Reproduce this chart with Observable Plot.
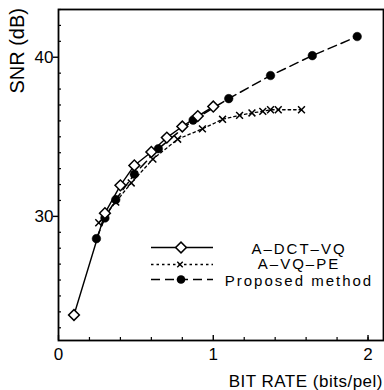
<!DOCTYPE html>
<html><head><meta charset="utf-8">
<script src="https://cdn.jsdelivr.net/npm/d3@7"></script>
<script src="https://cdn.jsdelivr.net/npm/@observablehq/plot@0.6"></script>
<style>
body{margin:0;background:#fff;}
#wrap{width:384px;height:390px;}
</style></head><body><div id="wrap"></div>
<script>
// ---- data ----
const dctX = [0.10, 0.30, 0.40, 0.49, 0.60, 0.70, 0.80, 0.90, 1.00];
const dctY = [23.8, 30.2, 31.95, 33.2, 34.05, 34.95, 35.65, 36.3, 36.9];
const vqX = [0.26, 0.37, 0.47, 0.61, 0.77, 0.93, 1.06, 1.17, 1.25, 1.32, 1.37, 1.42, 1.57];
const vqY = [29.6, 30.9, 32.1, 33.6, 34.85, 35.5, 36.1, 36.35, 36.5, 36.6, 36.7, 36.7, 36.7];
const propX = [0.245, 0.30, 0.37, 0.49, 0.645, 0.87, 1.10, 1.37, 1.64, 1.93];
const propY = [28.6, 29.9, 31.05, 32.65, 34.25, 36.05, 37.4, 38.85, 40.1, 41.3];
const seriesNames = ["A\u2013DCT\u2013VQ", "A\u2013VQ\u2013PE", "Proposed method"];
const xMajor = [0, 1, 2];
const xMinor = [0.2, 0.4, 0.6, 0.8, 1.2, 1.4, 1.6, 1.8, 2.0];
const yMajor = [30, 40];
const yMinor = [23, 24, 25, 26, 27, 28, 29, 31, 32, 33, 34, 35, 36, 37, 38, 39, 41, 42, 43];
const xLabel = "BIT RATE (bits/pel)";
const yLabel = "SNR (dB)";

const toRows = (xs, ys) => xs.map((x, i) => ({x, y: ys[i]}));
const dct = toRows(dctX, dctY), vq = toRows(vqX, vqY), prop = toRows(propX, propY);

const FONT = "'Liberation Sans', Arial, Helvetica, sans-serif";

const plot = Plot.plot({
  width: 384, height: 390,
  marginLeft: 58, marginRight: 1, marginTop: 9, marginBottom: 50,
  x: {domain: [0, 2.1], label: null},
  y: {domain: [22.2, 43.0], label: null},
  style: {fontFamily: FONT, fontSize: "17px", color: "#000", background: "#fff"},
  marks: [
    Plot.frame({stroke: "#000", strokeWidth: 1.8}),
    Plot.axisX({ticks: xMinor, tickSize: -3, tickFormat: () => "", label: null, strokeWidth: 1.2}),
    Plot.axisX({ticks: xMajor, tickSize: -5, tickPadding: 12, tickFormat: d => d, label: null, strokeWidth: 1.4, fontSize: 17}),
    Plot.axisY({ticks: yMinor, tickSize: -3, tickFormat: () => "", label: null, strokeWidth: 1.2}),
    Plot.axisY({ticks: yMajor, tickSize: 5, tickPadding: 0, tickFormat: d => d, label: null, strokeWidth: 1.4, fontSize: 17}),
    Plot.line(prop, {x: "x", y: "y", stroke: "#000", strokeWidth: 1.5, strokeDasharray: "9,5"}),
    Plot.line(vq, {x: "x", y: "y", stroke: "#000", strokeWidth: 1.3, strokeDasharray: "2.5,3"}),
    Plot.line(dct, {x: "x", y: "y", stroke: "#000", strokeWidth: 1.4}),
    Plot.dot(vq, {x: "x", y: "y", symbol: "times", r: 3.2, stroke: "#000", strokeWidth: 1.5}),
    Plot.dot(prop, {x: "x", y: "y", symbol: "circle", r: 4.3, fill: "#000", stroke: "#000", strokeWidth: 0.5}),
    Plot.dot(dct, {x: "x", y: "y", symbol: "square", r: 4.3, rotate: 45, fill: "#fff", stroke: "#000", strokeWidth: 1.5})
  ]
});
document.getElementById("wrap").appendChild(plot);

// ---- axis titles and legend ----
const svg = d3.select(plot);
svg.append("text")
  .attr("transform", "translate(24,8) rotate(-90)")
  .attr("text-anchor", "end")
  .attr("font-family", FONT).attr("font-size", 20)
  .attr("fill", "#000")
  .text(yLabel);
svg.append("text")
  .attr("x", 383).attr("y", 386.5)
  .attr("text-anchor", "end")
  .attr("font-family", FONT).attr("font-size", 17)
  .attr("letter-spacing", 0.5)
  .attr("fill", "#000")
  .text(xLabel);

const legRows = [247.5, 264.5, 279.5];
const legBase = [253.5, 269, 286];
const dashes = [null, "2.5,3", "9,5"];
const g = svg.append("g");
seriesNames.forEach((name, i) => {
  const y = legRows[i];
  g.append("line").attr("x1", 151).attr("x2", 213).attr("y1", y).attr("y2", y)
    .attr("stroke", "#000").attr("stroke-width", 1.4)
    .attr("stroke-dasharray", dashes[i]);
  if (i === 0) {
    g.append("path").attr("d", d3.symbol(d3.symbolSquare, Math.PI * 4.3 * 4.3)())
      .attr("transform", `translate(181,${y}) rotate(45)`)
      .attr("fill", "#fff").attr("stroke", "#000").attr("stroke-width", 1.5);
  } else if (i === 1) {
    g.append("path").attr("d", d3.symbol(d3.symbolTimes, Math.PI * 2.6 * 2.6)())
      .attr("transform", `translate(180,${y})`)
      .attr("fill", "none").attr("stroke", "#000").attr("stroke-width", 1.4);
  } else {
    g.append("circle").attr("cx", 181).attr("cy", y).attr("r", 4.3).attr("fill", "#000");
  }
  g.append("text").attr("x", 299).attr("y", legBase[i])
    .attr("text-anchor", "middle")
    .attr("font-family", FONT).attr("font-size", 15)
    .attr("letter-spacing", 2)
    .attr("fill", "#000")
    .text(name);
});
</script>
</body></html>
